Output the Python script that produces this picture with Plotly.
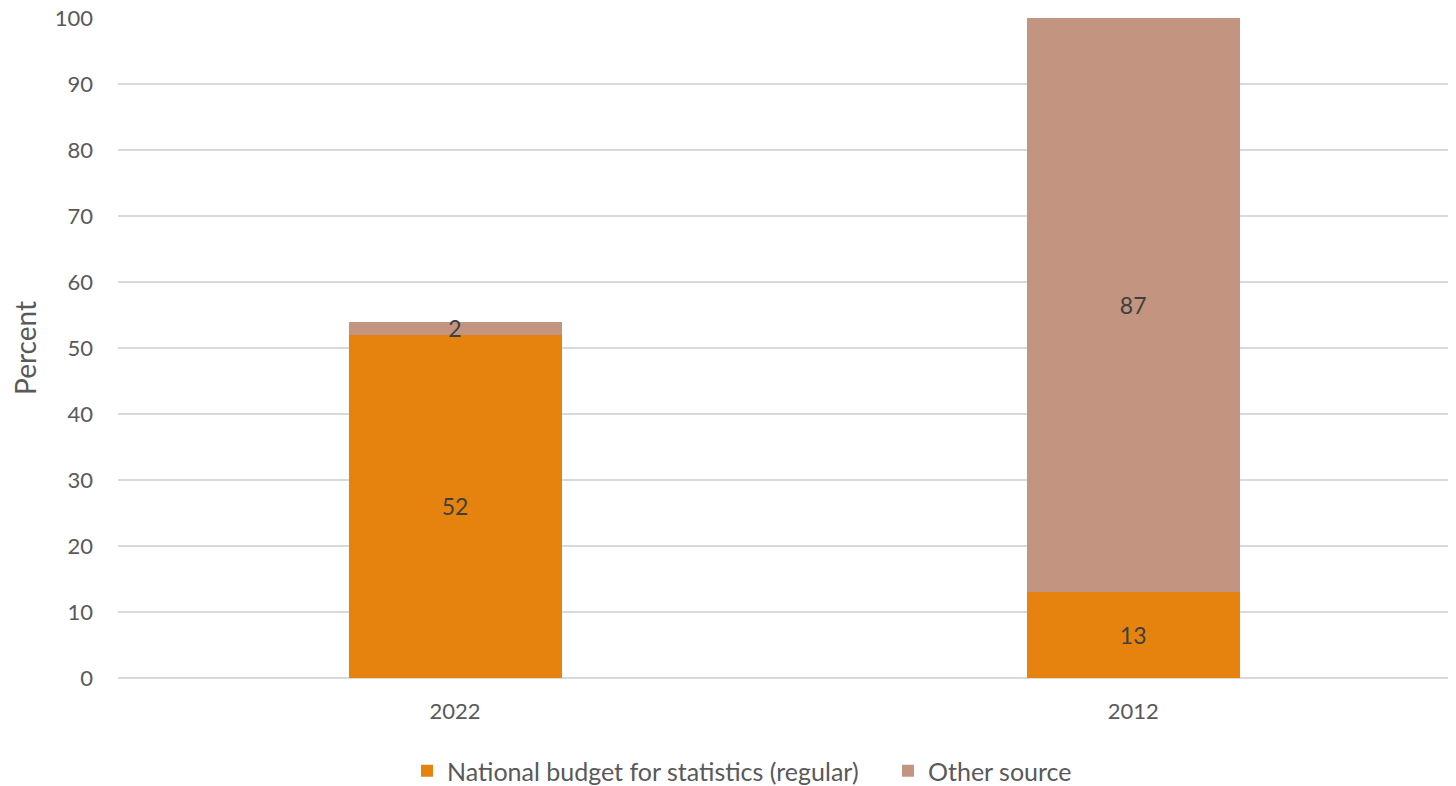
import plotly.graph_objects as go

categories = ["2022", "2012"]
national_budget = [52, 13]
other_source = [2, 87]
series_names = ["National budget for statistics (regular)", "Other source"]
y_ticks = [0, 10, 20, 30, 40, 50, 60, 70, 80, 90, 100]

FONT = "Lato, Calibri, Carlito, sans-serif"

fig = go.Figure()
fig.add_trace(go.Bar(
    x=categories, y=national_budget, name=series_names[0],
    marker=dict(color="#E6830F", line=dict(width=0)),
    text=[str(v) for v in national_budget], textposition="inside", textangle=0,
    insidetextanchor="middle", constraintext="none",
    textfont=dict(family=FONT, size=23, color="#404040"),
    width=0.314,
))
fig.add_trace(go.Bar(
    x=categories, y=other_source, name=series_names[1],
    marker=dict(color="#C3947F", line=dict(width=0)),
    text=[str(v) for v in other_source], textposition="inside", textangle=0,
    insidetextanchor="middle", constraintext="none",
    textfont=dict(family=FONT, size=23, color="#404040"),
    width=0.314,
))

fig.update_layout(
    barmode="stack",
    width=1448, height=778,
    margin=dict(l=110, r=0, t=10, b=108, autoexpand=False),
    paper_bgcolor="white", plot_bgcolor="white",
    font=dict(family=FONT, size=22, color="#595959"),
    showlegend=True,
    legend=dict(orientation="h", x=399 / 1448, xref="container", xanchor="left",
                y=(778 - 763) / 778, yref="container", yanchor="middle",
                font=dict(family=FONT, size=25, color="#595959"),
                itemwidth=30, entrywidth=436, traceorder="normal"),
    uniformtext=dict(minsize=10, mode="show"),
)
fig.update_xaxes(
    type="category", range=[-0.497, 1.476], automargin=False,
    showgrid=False, showline=False, ticks="", ticklabelstandoff=18,
    tickfont=dict(family=FONT, size=22, color="#595959"),
)
fig.update_yaxes(
    range=[0, 100], tickvals=y_ticks, ticktext=[str(t) for t in y_ticks],
    automargin=False,
    showgrid=True, gridcolor="#D9D9D9", gridwidth=1.5,
    zeroline=True, zerolinecolor="#D9D9D9", zerolinewidth=1.5,
    showline=False, ticks="", ticklabelstandoff=24, ticklabeloverflow="allow",
    tickfont=dict(family=FONT, size=22, color="#595959"),
    title=dict(text="Percent", font=dict(family=FONT, size=28, color="#595959"), standoff=24),
)

fig.write_html("out.html")
